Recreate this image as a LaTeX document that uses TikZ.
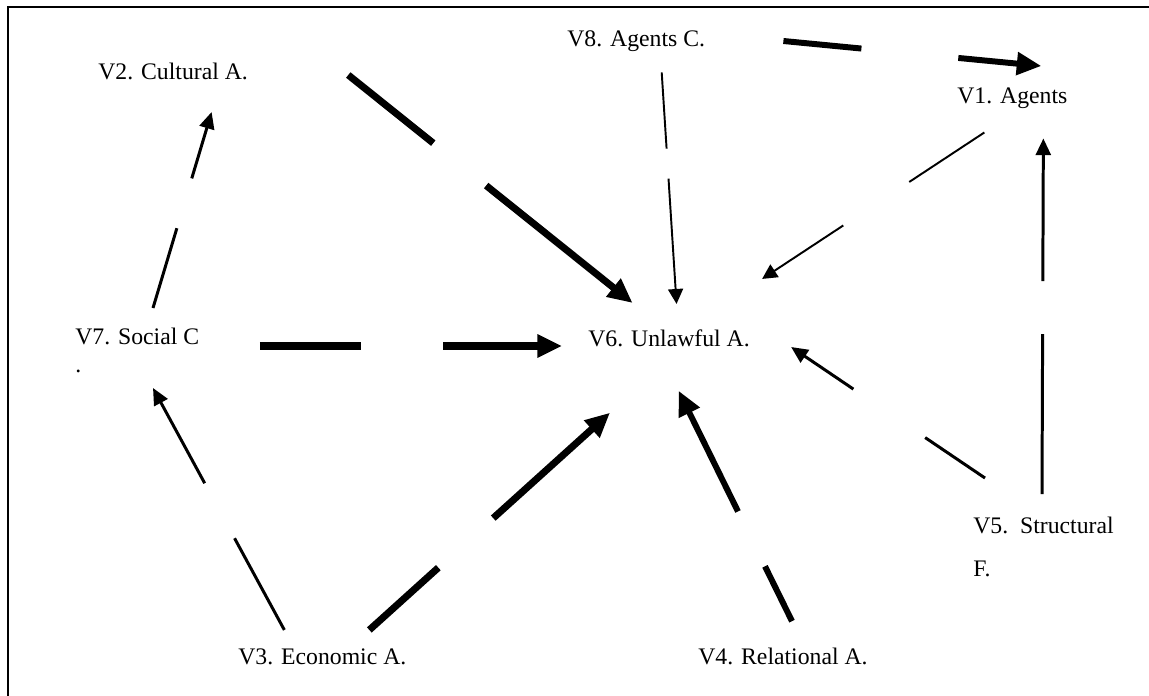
\documentclass[tikz,border=0pt]{standalone}
\usepackage{fontspec}
\setmainfont{Liberation Serif}
\usetikzlibrary{arrows.meta}

\begin{document}
\begin{tikzpicture}[x=0.02cm, y=-0.02cm, font=\fontsize{13.5}{24}\selectfont,
  lbl/.style={anchor=base west, inner sep=0pt, align=left},
  thinarr/.style={line width=1.1pt, -{Triangle[length=8.5pt, width=8.5pt]}},
  midarr/.style={line width=1.7pt, -{Triangle[length=9.5pt, width=8.5pt]}},
  thickarr/.style={line width=4pt, -{Triangle[length=14pt, width=12.5pt]}}]
\useasboundingbox (0,0) rectangle (1149,696);
\draw[line width=1.2pt] (8,696) |- (1149,7);

% variables (base = last line)
\node[lbl] (v8) at (567,47) {V8. Agents C.};
\node[lbl] (v2) at (98,80) {V2. Cultural A.};
\node[lbl] (v1) at (957,104) {V1. Agents};
\node[lbl] (v7) at (75,372) {V7. Social C\\[-8.5pt].};
\node[lbl] (v6) at (588,346) {V6. Unlawful A.};
\node[lbl] (v5) at (973,576) {V5.\ \ Structural\\F.};
\node[lbl] (v3) at (238,664) {V3. Economic A.};
\node[lbl] (v4) at (698,664) {V4. Relational A.};

% paths (broken where the weights were)
\draw[thickarr, line width=3.4pt, dash pattern=on 44.6pt off 55.4pt on 2000pt]
  ([shift={(78,-6)}]v8.base east) -- ([shift={(29,-22)}]v1.north);
\draw[thinarr, dash pattern=on 43.4pt off 17.1pt on 2000pt]
  ([shift={(25.5,20)}]v8.south) -- ([shift={(7.5,-25)}]v6.north);
\draw[thinarr, dash pattern=on 51.2pt off 45pt on 2000pt]
  ([shift={(-28,23)}]v1.south) -- ([shift={(12,-50)}]v6.north east);
\draw[thickarr, dash pattern=on 62pt off 38.6pt on 2000pt]
  ([shift={(100,-5)}]v2.base east) -- ([shift={(-36.5,-26)}]v6.north);
\draw[thickarr, dash pattern=on 57.5pt off 46.7pt on 2000pt]
  ([shift={(60.4,-26)}]v7.base east) -- ([shift={(-26,0)}]v6.base west);
\draw[midarr, dash pattern=on 47.4pt off 29.6pt on 2000pt]
  ([shift={(78,-64)}]v7.base west) -- ([shift={(38.5,32)}]v2.base);
\draw[midarr, dash pattern=on 59.4pt off 35.6pt on 2000pt]
  ([shift={(-38,-18)}]v3.north) -- ([shift={(78,16)}]v7.base west);
\draw[thickarr, dash pattern=on 52.9pt off 42.1pt on 2000pt]
  ([shift={(47,-18)}]v3.north) -- ([shift={(22,66)}]v6.south west);
\draw[thickarr, line width=3.4pt, dash pattern=on 34.8pt off 34.8pt on 2000pt]
  ([shift={(9,-26)}]v4.north) -- ([shift={(9.5,44)}]v6.south);
\draw[midarr, dash pattern=on 41.1pt off 49.3pt on 2000pt]
  ([shift={(12,-39)}]v5.north west) -- ([shift={(41,1)}]v6.base east);
\draw[midarr, dash pattern=on 91pt off 30.2pt on 2000pt]
  ([shift={(69,-23)}]v5.north west) -- ([shift={(31,29)}]v1.south);
\end{tikzpicture}
\end{document}
